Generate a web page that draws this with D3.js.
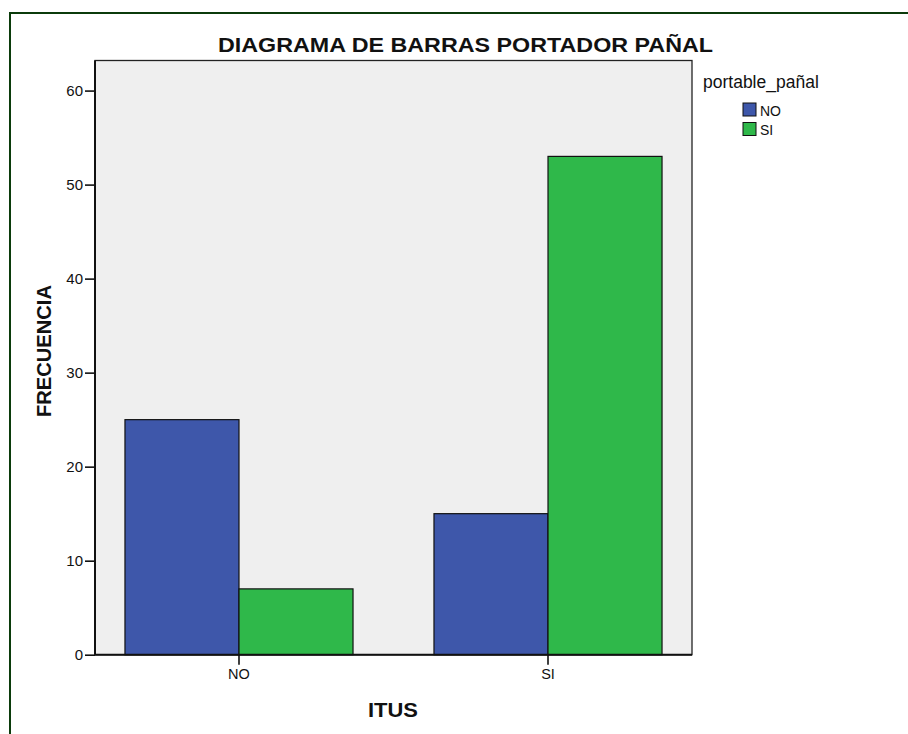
<!DOCTYPE html>
<html><head><meta charset="utf-8">
<script src="https://cdn.jsdelivr.net/npm/d3@7"></script>
<style>body{margin:0;background:#fff;font-family:"Liberation Sans",Arial,sans-serif;}</style>
</head><body>
<svg id="c" width="908" height="734"></svg>
<script>
const categories = ["NO", "SI"];
const seriesNames = ["NO", "SI"];
const valuesNO = [25, 15];
const valuesSI = [7, 53];
const yTicks = [0, 10, 20, 30, 40, 50, 60];
const colors = ["#3e57aa", "#2fb84a"];

const svg = d3.select("#c");
const font = '"Liberation Sans", Arial, sans-serif';

// frame
svg.append("line").attr("x1", 10).attr("x2", 908).attr("y1", 13).attr("y2", 13).attr("stroke", "#0b3b0b").attr("stroke-width", 2);
svg.append("line").attr("x1", 10).attr("x2", 10).attr("y1", 12).attr("y2", 734).attr("stroke", "#0b3b0b").attr("stroke-width", 2);

const L = 95, R = 692, T = 60.5, B = 654.7;
const x = d3.scaleBand().domain(categories).range([L, R]).paddingInner(0.262).paddingOuter(0.097);
const xs = d3.scaleBand().domain(seriesNames).range([0, x.bandwidth()]);
const y = d3.scaleLinear().domain([0, 63.2]).range([B, T]);

svg.append("rect").attr("x", L).attr("y", T).attr("width", R - L).attr("height", B - T)
  .attr("fill", "#efefef").attr("stroke", "#222").attr("stroke-width", 1.3);

const data = categories.map((c, i) => ({c, vals: [valuesNO[i], valuesSI[i]]}));
const g = svg.append("g");
data.forEach(d => {
  d.vals.forEach((v, j) => {
    g.append("rect")
      .attr("x", x(d.c) + xs(seriesNames[j]))
      .attr("y", y(v))
      .attr("width", xs.bandwidth())
      .attr("height", y(0) - y(v))
      .attr("fill", colors[j]).attr("stroke", "#111").attr("stroke-width", 1.2);
  });
});

// y axis
const ya = svg.append("g").attr("transform", `translate(${L},0)`)
  .call(d3.axisLeft(y).tickValues(yTicks).tickSize(10).tickSizeOuter(0).tickPadding(2));
ya.select(".domain").remove();
ya.selectAll(".tick line").attr("stroke", "#111").attr("stroke-width", 1.6);
ya.selectAll(".tick text").attr("font-family", font).attr("font-size", 15).attr("fill", "#111");
svg.append("line").attr("x1", L).attr("x2", L).attr("y1", T).attr("y2", B).attr("stroke", "#111").attr("stroke-width", 2);

// x axis
const xa = svg.append("g").attr("transform", `translate(0,${B})`)
  .call(d3.axisBottom(x).tickSize(10).tickSizeOuter(0).tickPadding(4));
xa.select(".domain").remove();
xa.selectAll(".tick line").attr("stroke", "#111").attr("stroke-width", 1.6);
xa.selectAll(".tick text").attr("font-family", font).attr("font-size", 14.5).attr("fill", "#111");
svg.append("line").attr("x1", L).attr("x2", R).attr("y1", B).attr("y2", B).attr("stroke", "#111").attr("stroke-width", 2);

// titles
svg.append("text").attr("x", 465.5).attr("y", 52).attr("text-anchor", "middle")
  .attr("font-family", font).attr("font-weight", "bold").attr("font-size", 20.5).attr("fill", "#111")
  .attr("textLength", 495).attr("lengthAdjust", "spacingAndGlyphs")
  .text("DIAGRAMA DE BARRAS PORTADOR PAÑAL");
svg.append("text").attr("transform", "translate(51,351) rotate(-90)").attr("text-anchor", "middle")
  .attr("font-family", font).attr("font-weight", "bold").attr("font-size", 20.5).attr("fill", "#111")
  .attr("textLength", 132).attr("lengthAdjust", "spacingAndGlyphs")
  .text("FRECUENCIA");
svg.append("text").attr("x", 393).attr("y", 717).attr("text-anchor", "middle")
  .attr("font-family", font).attr("font-weight", "bold").attr("font-size", 20.5).attr("fill", "#111")
  .attr("textLength", 50).attr("lengthAdjust", "spacingAndGlyphs")
  .text("ITUS");

// legend
svg.append("text").attr("x", 703).attr("y", 88).attr("font-family", font).attr("font-size", 17.5).attr("fill", "#111")
  .text("portable_pañal");
seriesNames.forEach((s, i) => {
  const yy = 103 + i * 19.5;
  svg.append("rect").attr("x", 743).attr("y", yy).attr("width", 13).attr("height", 13)
    .attr("fill", colors[i]).attr("stroke", "#111").attr("stroke-width", 1);
  svg.append("text").attr("x", 760).attr("y", yy + 12.5).attr("font-family", font).attr("font-size", 14).attr("fill", "#111").text(s);
});
</script>
</body></html>
